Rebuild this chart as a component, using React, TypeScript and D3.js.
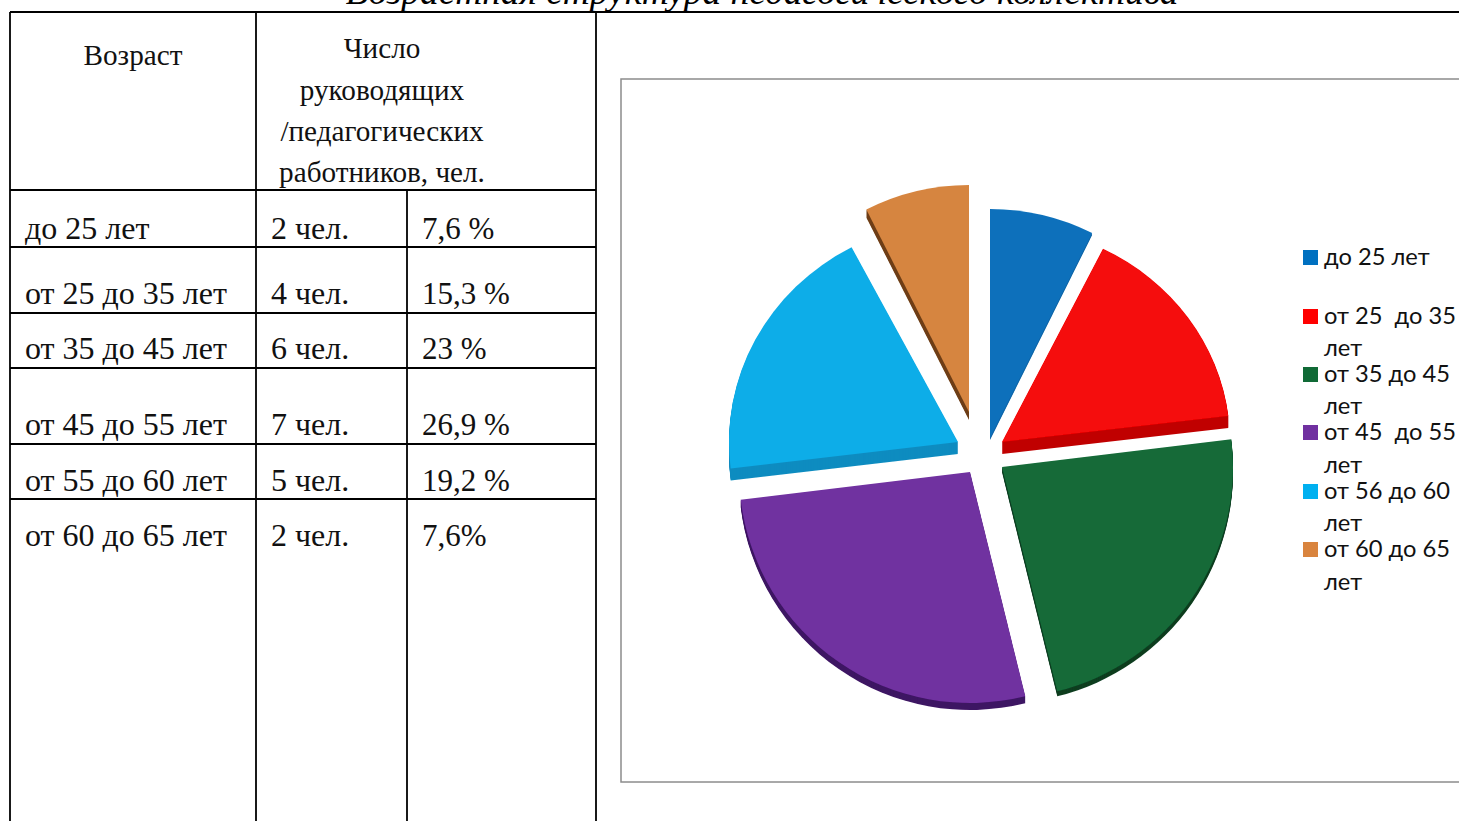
import React from "react";
import * as d3 from "d3";

const ageGroups = ["до 25 лет", "от 25 до 35 лет", "от 35 до 45 лет", "от 45 до 55 лет", "от 55 до 60 лет", "от 60 до 65 лет"];
const counts = [2, 4, 6, 7, 5, 2];
const countLabels = ["2 чел.", "4 чел.", "6 чел.", "7 чел.", "5 чел.", "2 чел."];
const percentLabels = ["7,6 %", "15,3 %", "23 %", "26,9 %", "19,2 %", "7,6%"];
const headerLines = ["Число", "руководящих", "/педагогических", "работников, чел."];
const legendLines = [["до 25 лет"], ["от 25  до 35", "лет"], ["от 35 до 45", "лет"], ["от 45  до 55", "лет"], ["от 56 до 60", "лет"], ["от 60 до 65", "лет"]];
const title = "Возрастная структура педагогического коллектива";

const sliceColors = ["#0a70bb", "#f50707", "#136a37", "#7030a0", "#10ade8", "#d6853f"];
const wallColors = ["#0a62a5", "#c00404", "#0b3d20", "#3d1463", "#0c8cc0", "#6e3f17"];
const swatchColors = ["#0070c0", "#ff0000", "#106a36", "#7030a0", "#00b0f0", "#d9843e"];
// Exploded-slice layout and the small perspective corrections of the 3D pie
const explodeX = [6, 18, 18, -14, -26, -15];
const explodeY = [-22, -18, 7, 12, -18, -48];
const sliceDepth = [2, 12, 5, 7, 12, 8];
const sliceRadius = [229, 228, 231, 231, 229, 227];
const sliceScaleY = [1, 0.945, 1, 1, 0.96, 1];
const startNudgeDeg = [0, -1.4, 0, 0, 0, 0.8];
const endNudgeDeg = [-1.2, 0, 0, 0, 0, 0];

const rowBaselines = [239, 304, 359, 435, 491, 546];
const rowLines = [190, 247, 313, 368, 444, 499];
const headerBaselines = [58, 100, 141, 182];
const legendBaselines = [[265], [324, 356], [382, 414], [440, 473], [499, 531], [557, 590]];

const serif = '"Liberation Serif", serif';
const pieCenter: [number, number] = [984, 460];
const rad = Math.PI / 180;

export default function App() {
  const slices = d3.pie<number>().sort(null)(counts);
  const pathFor = (s: d3.PieArcDatum<number>, i: number) =>
    d3.arc<d3.PieArcDatum<number>>()
      .innerRadius(0)
      .outerRadius(sliceRadius[i])
      .startAngle(s.startAngle + startNudgeDeg[i] * rad)
      .endAngle(s.endAngle + endNudgeDeg[i] * rad)(s) as string;
  return (
    <svg width={1459} height={821} viewBox="0 0 1459 821"
      style={{ position: "fixed", left: 0, top: 0, background: "#fff" }}>
      <defs>
        <filter id="soft" x="-5%" y="-5%" width="110%" height="110%">
          <feGaussianBlur stdDeviation="0.6" />
        </filter>
      </defs>
      <text x={762} y={4} textAnchor="middle" fontFamily={serif} fontStyle="italic" fontSize={37.4}>{title}</text>

      <g stroke="#000" strokeWidth={1.8}>
        <line x1={10} x2={1459} y1={12} y2={12} strokeWidth={2.2} />
        <line x1={10} x2={10} y1={12} y2={821} />
        <line x1={256} x2={256} y1={12} y2={821} />
        <line x1={407} x2={407} y1={190} y2={821} />
        <line x1={596} x2={596} y1={12} y2={821} />
        {rowLines.map((y) => <line key={y} x1={10} x2={596} y1={y} y2={y} />)}
      </g>

      <g fontFamily={serif} fill="#111">
        <g fontSize={29.2}>
          <text x={133} y={65} textAnchor="middle">Возраст</text>
          {headerLines.map((l, i) => <text key={l} x={382} y={headerBaselines[i]} textAnchor="middle">{l}</text>)}
        </g>
        <g fontSize={32}>
          {ageGroups.map((g, i) => (
            <g key={g}>
              <text x={25} y={rowBaselines[i]}>{g}</text>
              <text x={271} y={rowBaselines[i]}>{countLabels[i]}</text>
              <text x={422} y={rowBaselines[i]} fontSize={31}>{percentLabels[i]}</text>
            </g>
          ))}
        </g>
      </g>

      <rect x={621} y={79} width={860} height={703} fill="#fff" stroke="#8c8c8c" strokeWidth={1.5} />

      <g filter="url(#soft)" transform={`translate(${pieCenter[0]},${pieCenter[1]})`}>
        {slices.map((s, i) => {
          const path = pathFor(s, i);
          return (
            <g key={i} transform={`translate(${explodeX[i]},${explodeY[i]})`}>
              {d3.range(sliceDepth[i], 0, -1).map((d) => (
                <path key={d} d={path} transform={`translate(0,${d}) scale(1,${sliceScaleY[i]})`} fill={wallColors[i]} />
              ))}
              <path d={path} transform={`scale(1,${sliceScaleY[i]})`} fill={sliceColors[i]} />
            </g>
          );
        })}
      </g>

      <g fontFamily="Lato, sans-serif" fontSize={23.7} fill="#111">
        {legendLines.map((lines, i) => (
          <g key={i}>
            <rect x={1303} y={legendBaselines[i][0] - 15} width={15} height={15} fill={swatchColors[i]} />
            {lines.map((l, j) => <text key={j} x={1324} y={legendBaselines[i][j]} style={{ whiteSpace: "pre" }}>{l}</text>)}
          </g>
        ))}
      </g>
    </svg>
  );
}
